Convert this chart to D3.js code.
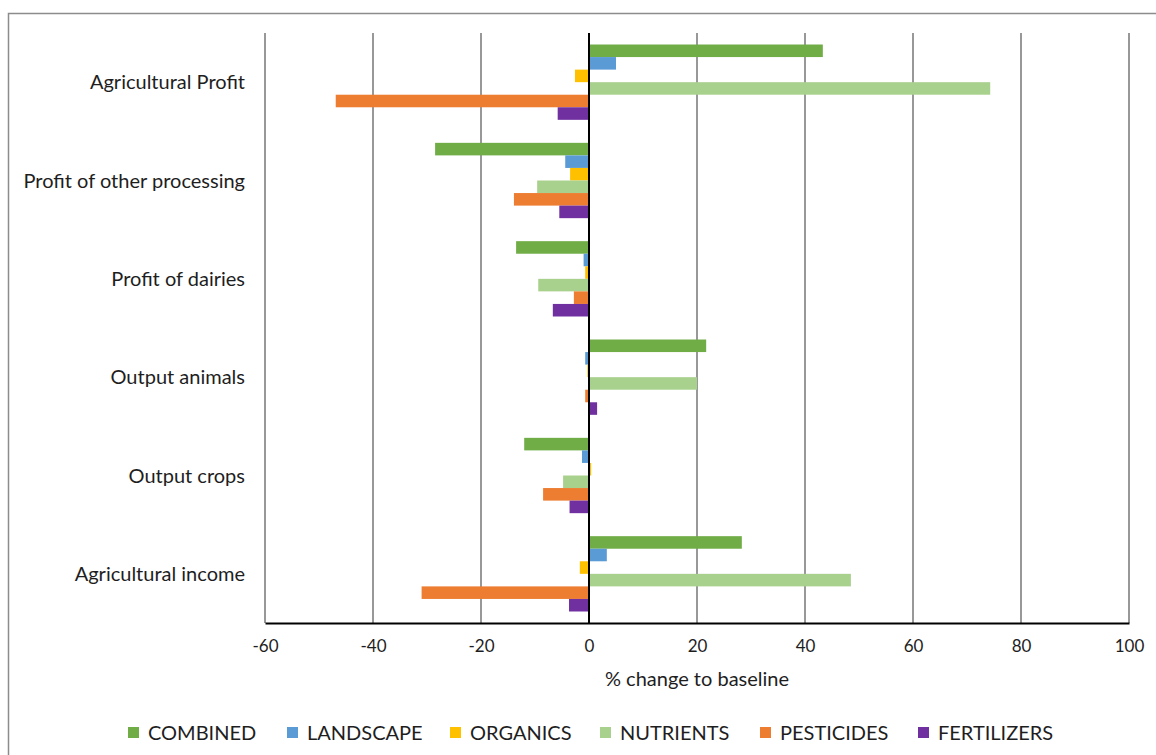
<!DOCTYPE html>
<html>
<head>
<meta charset="utf-8">
<script src="https://cdn.jsdelivr.net/npm/d3@7"></script>
<style>
  body { margin: 0; background: #fff; }
  svg { display: block; font-family: Lato, "Open Sans", sans-serif; }
</style>
</head>
<body>
<div id="chart"></div>
<script>
const categories = ["Agricultural Profit", "Profit of other processing", "Profit of dairies",
                    "Output animals", "Output crops", "Agricultural income"];
const seriesNames = ["COMBINED", "LANDSCAPE", "ORGANICS", "NUTRIENTS", "PESTICIDES", "FERTILIZERS"];
const seriesColours = ["#70AD47", "#5B9BD5", "#FFC000", "#A9D18E", "#ED7D31", "#7030A0"];

// one array per series, in category order
const combined    = [43.3, -28.5, -13.5, 21.7, -12.0, 28.3];
const landscape   = [5.0, -4.4, -1.0, -0.7, -1.3, 3.3];
const organics    = [-2.6, -3.5, -0.7, -0.3, 0.4, -1.7];
const nutrients   = [74.3, -9.6, -9.4, 20.0, -4.8, 48.5];
const pesticides  = [-46.9, -13.9, -2.8, -0.7, -8.5, -31.0];
const fertilizers = [-5.8, -5.5, -6.7, 1.5, -3.6, -3.7];
const xTicks = [-60, -40, -20, 0, 20, 40, 60, 80, 100];

const seriesValues = [combined, landscape, organics, nutrients, pesticides, fertilizers];

const width = 1156;
const height = 755;
const plot = { left: 265, right: 1129, top: 33, bottom: 623 };
const textColour = "#1e1e1e";

const svg = d3.select("#chart").append("svg")
    .attr("width", width)
    .attr("height", height);

// outer frame, cut off at right and bottom like the screenshot
svg.append("rect")
    .attr("x", 8.5).attr("y", 13.5)
    .attr("width", 1170).attr("height", 770)
    .attr("fill", "none")
    .attr("stroke", "#8c8c8c")
    .attr("stroke-width", 1.5);

const x = d3.scaleLinear().domain([-60, 100]).range([plot.left, plot.right]);

const y = d3.scaleBand()
    .domain(categories)
    .range([plot.top, plot.bottom])
    .paddingInner(0.234)
    .paddingOuter(0.117);

const ySeries = d3.scaleBand()
    .domain(seriesNames)
    .range([0, y.bandwidth()]);

const colour = d3.scaleOrdinal().domain(seriesNames).range(seriesColours);

// vertical gridlines
svg.append("g")
    .selectAll("line")
    .data(xTicks.filter(t => t !== 0))
    .join("line")
    .attr("x1", d => x(d)).attr("x2", d => x(d))
    .attr("y1", plot.top).attr("y2", plot.bottom)
    .attr("stroke", "#8a8a8a")
    .attr("stroke-width", 1.75);

// bars
const rows = [];
categories.forEach((c, i) => {
    seriesNames.forEach((s, j) => {
        rows.push({ category: c, series: s, value: seriesValues[j][i] });
    });
});

svg.append("g")
    .selectAll("rect")
    .data(rows)
    .join("rect")
    .attr("x", d => x(Math.min(0, d.value)))
    .attr("width", d => Math.abs(x(d.value) - x(0)))
    .attr("y", d => y(d.category) + ySeries(d.series))
    .attr("height", ySeries.bandwidth())
    .attr("fill", d => colour(d.series));

// zero line and bottom axis line
svg.append("line")
    .attr("x1", x(0)).attr("x2", x(0))
    .attr("y1", plot.top).attr("y2", plot.bottom)
    .attr("stroke", "#000")
    .attr("stroke-width", 2);

const xAxis = svg.append("g")
    .attr("transform", `translate(0,${plot.bottom})`)
    .call(d3.axisBottom(x).tickValues(xTicks).tickSize(0).tickPadding(17).tickFormat(d => String(d)));

xAxis.select(".domain").attr("stroke", "#000").attr("stroke-width", 2);
xAxis.selectAll("text")
    .style("font-family", "Lato, sans-serif")
    .style("font-size", "17px")
    .attr("fill", textColour);

// category labels
svg.append("g")
    .selectAll("text")
    .data(categories)
    .join("text")
    .attr("x", 245)
    .attr("y", d => y(d) + y.bandwidth() / 2)
    .attr("dy", "0.35em")
    .style("text-anchor", "end")
    .style("font-size", "20px")
    .attr("fill", textColour)
    .text(d => d);

// axis title
svg.append("text")
    .attr("x", (plot.left + plot.right) / 2)
    .attr("y", 686)
    .style("text-anchor", "middle")
    .style("font-size", "20px")
    .attr("fill", textColour)
    .text("% change to baseline");

// legend
const legendX = [128, 287, 450, 600, 760, 918];
const legend = svg.append("g")
    .selectAll("g")
    .data(seriesNames)
    .join("g")
    .attr("transform", (d, i) => `translate(${legendX[i]},733)`);

legend.append("rect")
    .attr("x", 0).attr("y", -6)
    .attr("width", 11).attr("height", 11)
    .attr("fill", d => colour(d));

legend.append("text")
    .attr("x", 20)
    .attr("dy", "0.35em")
    .style("font-size", "20px")
    .attr("fill", textColour)
    .text(d => d);
</script>
</body>
</html>
